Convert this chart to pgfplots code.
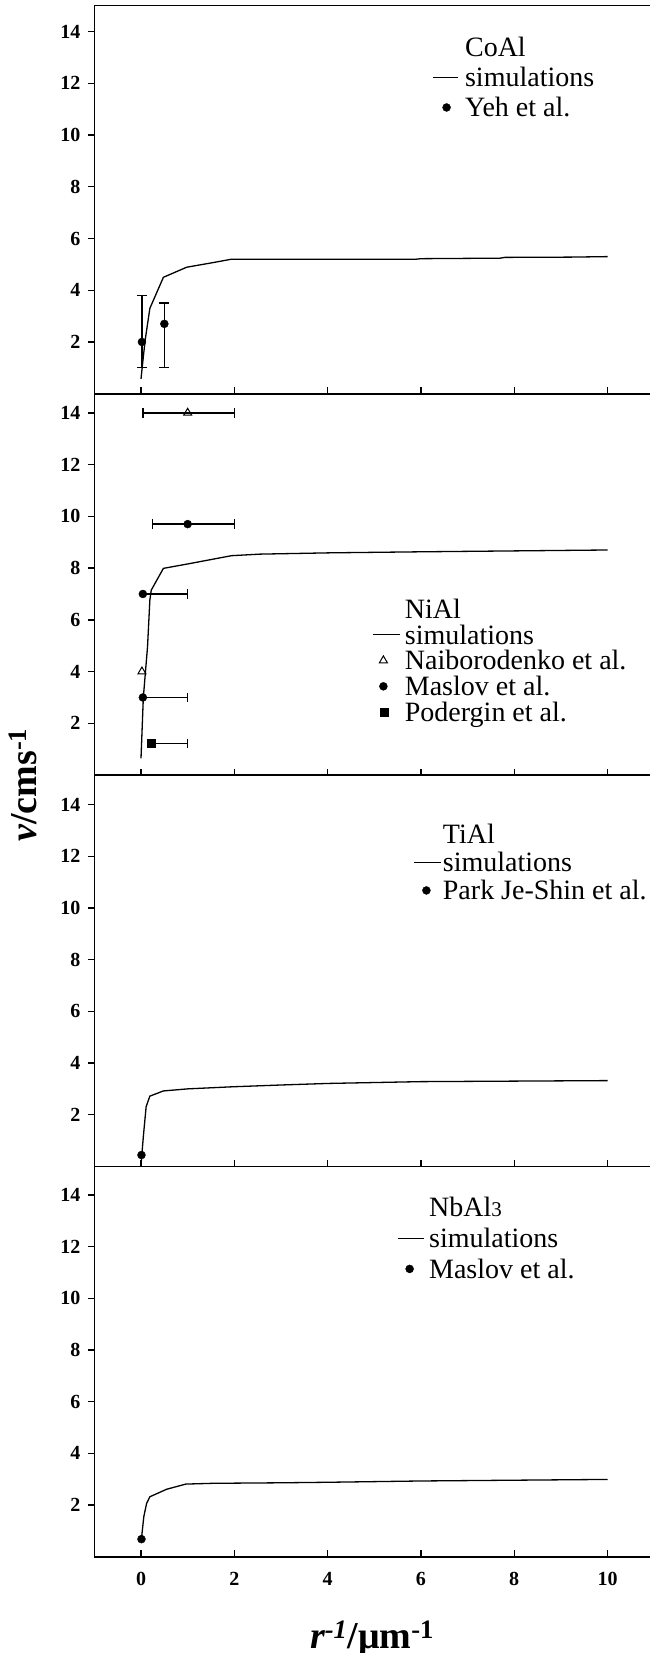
\documentclass[border=0pt]{standalone}
\usepackage{pgfplots}
\pgfplotsset{compat=1.18}
\usepackage{fontspec}
\setmainfont{Liberation Serif}

\pgfplotsset{
  panel/.style={
    scale only axis,
    width=557.5pt,
    xmin=-1, xmax=10.95,
    ymin=0,
    xtick={0,2,...,10},
    ytick={2,4,...,14},
    xtick pos=left, ytick pos=left,
    xtick align=inside, ytick align=outside,
    major tick length=6.5pt,
    axis line style={line width=1.6pt},
    tick style={line width=1.4pt, black},
    tick label style={font=\fontsize{20}{24}\selectfont\bfseries},
    /pgf/number format/assume math mode=true,
    yticklabel style={xshift=-4pt},
    xticklabel style={yshift=-12pt},
    legend cell align=left,
    legend style={draw=none, fill=none, inner sep=0pt, outer sep=0pt, anchor=north west,
      font=\fontsize{28}{30}\selectfont,
      nodes={inner xsep=0pt, inner ysep=1pt, text height=22pt, text depth=3pt}},
  },
  sim/.style={black, line width=1.3pt, mark=none},
  dots/.style={black, only marks, mark=*, mark size=4pt},
  tris/.style={black, only marks, mark=triangle, mark size=4.6pt, mark options={line width=1pt}},
  sqrs/.style={black, only marks, mark=square*, mark size=4pt},
  lineleg/.style={legend image code/.code={\draw[black,line width=1pt] (0pt,0pt) -- (#1,0pt);}},
  markleg/.style={legend image code/.code={\draw[##1] plot coordinates {(#1,0pt)};}},
  xerr/.style={
    /pgfplots/error bars/x dir=#1,
    /pgfplots/error bars/x explicit,
    /pgfplots/error bars/error mark=|,
    /pgfplots/error bars/error bar style={line width=1.3pt, black},
    /pgfplots/error bars/error mark options={black, line width=1.3pt, mark size=4.7pt}},
  yerr/.style={
    /pgfplots/error bars/y dir=both,
    /pgfplots/error bars/y explicit,
    /pgfplots/error bars/error mark=|,
    /pgfplots/error bars/error bar style={line width=1.3pt, black},
    /pgfplots/error bars/error mark options={black, line width=1.3pt, mark size=5pt}},
}

\begin{document}
\begin{tikzpicture}
\useasboundingbox (0pt,0pt) rectangle (649pt,-1653pt);

% ---------------- CoAl ----------------
\begin{axis}[panel, at={(94.35pt,-5.7pt)}, anchor=north west,
  height=388pt, ymax=15, xticklabels={},
  legend style={at={(axis cs:6.25,13.93)}, row sep=3.3pt,
    /tikz/every odd column/.append style={column sep=6.5pt}}]
\addlegendimage{empty legend}\addlegendentry{CoAl}
\addplot[sim, lineleg=25pt]
  coordinates {(0.0,0.57) (0.05,1.43) (0.09,2.08) (0.19,3.30) (0.48,4.50) (0.98,4.89)
               (1.55,5.07) (1.94,5.20) (5.9,5.20) (6.0,5.22) (7.7,5.24) (7.8,5.27) (9.2,5.28) (10,5.30)};
\addlegendentry{simulations}
\addplot[dots, markleg=13.5pt, yerr]
  coordinates {(0.02,2.0) += (0,1.79) -= (0,0.98)
               (0.5,2.7) += (0,0.81) -= (0,1.68)};
\addlegendentry{Yeh et al.}
\end{axis}

% ---------------- NiAl ----------------
\begin{axis}[panel, at={(94.35pt,-393.7pt)}, anchor=north west,
  height=381.4pt, ymax=14.74, xticklabels={},
  legend style={at={(axis cs:4.96,6.95)}, row sep=-1.15pt,
    /tikz/every odd column/.append style={column sep=4.5pt}}]
\addlegendimage{empty legend}\addlegendentry{NiAl}
\addplot[sim, lineleg=27pt]
  coordinates {(0.0,0.65) (0.05,3.0) (0.14,4.96) (0.19,6.77) (0.22,7.15) (0.48,7.99)
               (1.0,8.16) (1.94,8.48) (2.55,8.54) (4.05,8.59) (6.0,8.63) (10,8.70)};
\addlegendentry{simulations}
\addplot[tris, markleg=10.5pt, xerr=both]
  coordinates {(1.0,14.0) += (1.0,0) -= (0.96,0)};
\addlegendentry{Naiborodenko et al.}
\addplot[dots, markleg=10.5pt, xerr=both]
  coordinates {(1.0,9.7) += (1.0,0) -= (0.75,0)};
\addlegendentry{Maslov et al.}
\addplot[sqrs, markleg=11pt, xerr=plus]
  coordinates {(0.21,1.23) += (0.79,0) -= (0,0)};
\addlegendentry{Podergin et al.}
\addplot[dots, forget plot, xerr=plus]
  coordinates {(0.04,7.0) += (0.96,0) -= (0,0)
               (0.04,3.0) += (0.96,0) -= (0,0)};
\addplot[tris, forget plot] coordinates {(0.02,4.0)};
\end{axis}

% ---------------- TiAl ----------------
\begin{axis}[panel, at={(94.35pt,-775.1pt)}, anchor=north west,
  height=391.3pt, ymax=15.14, xticklabels={},
  legend style={at={(axis cs:5.85,13.39)}, row sep=1.3pt,
    /tikz/every odd column/.append style={column sep=1pt}}]
\addlegendimage{empty legend}\addlegendentry{TiAl}
\addplot[sim, lineleg=27pt]
  coordinates {(0.0,0.05) (0.05,1.15) (0.07,1.54) (0.11,2.31) (0.19,2.72) (0.48,2.92)
               (1.0,3.0) (1.95,3.08) (3.0,3.15) (4.0,3.21) (6.0,3.28) (8.0,3.30) (10,3.32)};
\addlegendentry{simulations}
\addplot[dots, markleg=12pt]
  coordinates {(0.01,0.44)};
\addlegendentry{Park Je-Shin et al.}
\end{axis}

% ---------------- NbAl3 ----------------
\begin{axis}[panel, at={(94.35pt,-1166.4pt)}, anchor=north west,
  height=390.3pt, ymax=15.1,
  legend style={at={(axis cs:5.49,14.04)}, row sep=3.8pt,
    /tikz/every odd column/.append style={column sep=5pt}}]
\addlegendimage{empty legend}\addlegendentry{NbAl{\fontsize{21}{24}\selectfont 3}}
\addplot[sim, lineleg=26pt]
  coordinates {(0.01,0.70) (0.06,1.55) (0.12,2.06) (0.19,2.32) (0.55,2.61) (0.96,2.81)
               (1.54,2.84) (3.0,2.86) (4.0,2.88) (6.0,2.93) (8.0,2.96) (10,2.99)};
\addlegendentry{simulations}
\addplot[dots, markleg=12pt]
  coordinates {(0.01,0.68)};
\addlegendentry{Maslov et al.}
\end{axis}

% axis titles shared by the stack
\node[rotate=90, anchor=base] at (36pt,-785pt)
  {\fontsize{38}{40}\selectfont\bfseries\itshape v\upshape/cms\textsuperscript{-1}};
\node[anchor=base] at (372pt,-1648pt)
  {\fontsize{38}{40}\selectfont\bfseries\itshape r\textsuperscript{-1}\upshape/μm\textsuperscript{-1}};
\end{tikzpicture}
\end{document}
